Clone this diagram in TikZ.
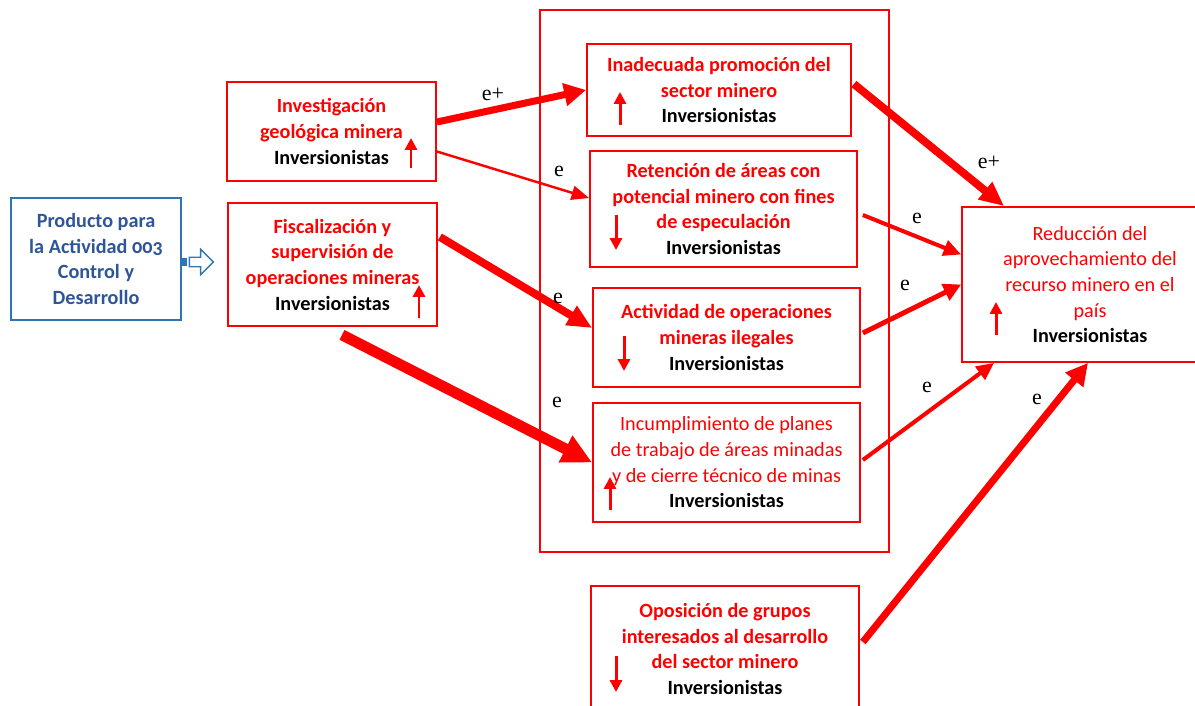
\documentclass[tikz,border=0pt]{standalone}
\usepackage{fontspec}
\setmainfont{Carlito}
\newfontfamily\serife{Liberation Serif}
\usepackage{tikz}
\usetikzlibrary{shapes.arrows, arrows.meta, positioning}
\definecolor{azul}{RGB}{46,117,182}
\definecolor{azultxt}{RGB}{47,85,151}
\tikzstyle{block} = [rectangle, draw=red, line width=1pt, text=red, align=center, inner sep=2pt, font=\fontsize{11.5}{14.6}\selectfont\bfseries]
\tikzstyle{arrow} = [red, line cap=butt]
\tikzstyle{updown} = [red, line width=1.7pt, -{Triangle[length=6.8pt,width=6.8pt]}]
\tikzstyle{lbl} = [font=\serife\fontsize{12.5}{14}\selectfont, inner sep=0pt]
\newcommand{\inv}{\textcolor{black}{Inversionistas}}

\begin{document}
\begin{tikzpicture}
    \useasboundingbox (0,0) rectangle (23.9,-14.12);
    \clip (0,0) rectangle (23.9,-14.12);

    % marco de los efectos intermedios
    \node (marco) [draw=red, line width=1pt, minimum width=6.98cm, minimum height=10.84cm] at (14.29,-5.62) {};

    \node (prod) [block, draw=azul, text=azultxt, minimum width=3.4cm, minimum height=2.44cm] at (1.92,-5.18)
        {Producto para\\la Actividad {\addfontfeatures{Numbers=OldStyle}003}\\Control y\\Desarrollo};
    \node (flecha) [single arrow, draw=azul, fill=white, line width=0.8pt, minimum height=0.48cm, minimum width=0.48cm, single arrow head extend=0.16cm, inner xsep=0pt, inner ysep=0.08cm] at (3.98,-5.24) {};
    \fill [azul] (3.61,-5.16) rectangle (3.74,-5.32);

    \node (inv) [block, minimum width=4.18cm, minimum height=1.98cm] at (6.63,-2.63) {Investigación\\geológica minera\\\inv};
    \node (fis) [block, minimum width=4.18cm, minimum height=2.46cm] at (6.65,-5.29) {Fiscalización y\\supervisión de\\operaciones mineras\\\inv};

    \node (ina) [block, minimum width=5.28cm, minimum height=1.84cm] at (14.38,-1.80) {Inadecuada promoción del\\sector minero\\\inv};
    \node (ret) [block, minimum width=5.34cm, minimum height=2.32cm] at (14.47,-4.18) {Retención de áreas con\\potencial minero con fines\\de especulación\\\inv};
    \node (act) [block, minimum width=5.34cm, minimum height=1.98cm] at (14.53,-6.75) {Actividad de operaciones\\mineras ilegales\\\inv};
    \node (inc) [block, font=\fontsize{11.5}{14.6}\selectfont, minimum width=5.34cm, minimum height=2.38cm] at (14.53,-9.25) {Incumplimiento de planes\\de trabajo de áreas minadas\\y de cierre técnico de minas\\\textbf{\inv}};
    \node (opo) [block, minimum width=5.36cm, minimum height=2.52cm] at (14.50,-12.98) {Oposición de grupos\\interesados al desarrollo\\del sector minero\\\inv};

    \node (red) [block, font=\fontsize{11.5}{14.6}\selectfont, minimum width=5.12cm, minimum height=3.10cm] at (21.80,-5.69) {Reducción del\\aprovechamiento del\\recurso minero en el\\país\\\textbf{\inv}};

    % flechas de sentido
    \draw [updown] (8.22,-3.36) -- (8.22,-2.76);
    \draw [updown] (8.38,-6.36) -- (8.38,-5.70);
    \draw [updown] (12.40,-2.50) -- (12.40,-1.84);
    \draw [updown] (12.32,-4.30) -- (12.32,-5.00);
    \draw [updown] (12.48,-6.72) -- (12.48,-7.42);
    \draw [updown] (12.20,-10.20) -- (12.20,-9.54);
    \draw [updown] (12.32,-13.12) -- (12.32,-13.84);
    \draw [updown] (19.92,-6.70) -- (19.92,-6.04);

    % relaciones
    \draw [arrow, line width=4pt, -{Triangle[length=12.5pt,width=12.5pt]}] ([yshift=0.19cm]inv.east) -- (ina.west);
    \draw [arrow, line width=1.4pt, -{Triangle[length=10pt,width=8pt]}] ([yshift=-0.4cm]inv.east) -- ([yshift=0.22cm]ret.west);
    \draw [arrow, line width=4.5pt, -{Triangle[length=14pt,width=12pt]}] ([yshift=0.55cm,xshift=0.04cm]fis.east) -- ([yshift=0.19cm]act.west);
    \draw [arrow, line width=6.2pt, -{Triangle[length=17pt,width=16pt]}] ([xshift=0.19cm,yshift=-0.16cm]fis.south) -- (inc.west);
    \draw [arrow, line width=4.5pt, -{Triangle[length=14pt,width=12pt]}] ([xshift=0.04cm,yshift=0.12cm]ina.east) -- ([xshift=0.86cm]red.north west);
    \draw [arrow, line width=2.3pt, -{Triangle[length=10pt,width=9pt]}] ([xshift=0.1cm,yshift=-0.12cm]ret.east) -- ([yshift=0.6cm]red.west);
    \draw [arrow, line width=2.8pt, -{Triangle[length=10pt,width=10pt]}] ([xshift=0.04cm,yshift=0.09cm]act.east) -- (red.west);
    \draw [arrow, line width=2.3pt, -{Triangle[length=10pt,width=9pt]}] ([xshift=0.04cm,yshift=0.05cm]inc.east) -- ([xshift=0.66cm]red.south west);
    \draw [arrow, line width=4pt, -{Triangle[length=12.5pt,width=12.5pt]}] ([xshift=0.06cm,yshift=0.14cm]opo.east) -- ([xshift=-0.04cm]red.south);

    \node (l1) [lbl] at (9.86,-1.88) {e+};
    \node (l2) [lbl] at (11.18,-3.42) {e};
    \node (l3) [lbl] at (11.16,-5.96) {e};
    \node (l4) [lbl] at (11.14,-8.04) {e};
    \node (l5) [lbl] at (19.78,-3.24) {e+};
    \node (l6) [lbl] at (18.34,-4.36) {e};
    \node (l7) [lbl] at (18.10,-5.70) {e};
    \node (l8) [lbl] at (18.54,-7.74) {e};
    \node (l9) [lbl] at (20.74,-7.98) {e};
\end{tikzpicture}
\end{document}
